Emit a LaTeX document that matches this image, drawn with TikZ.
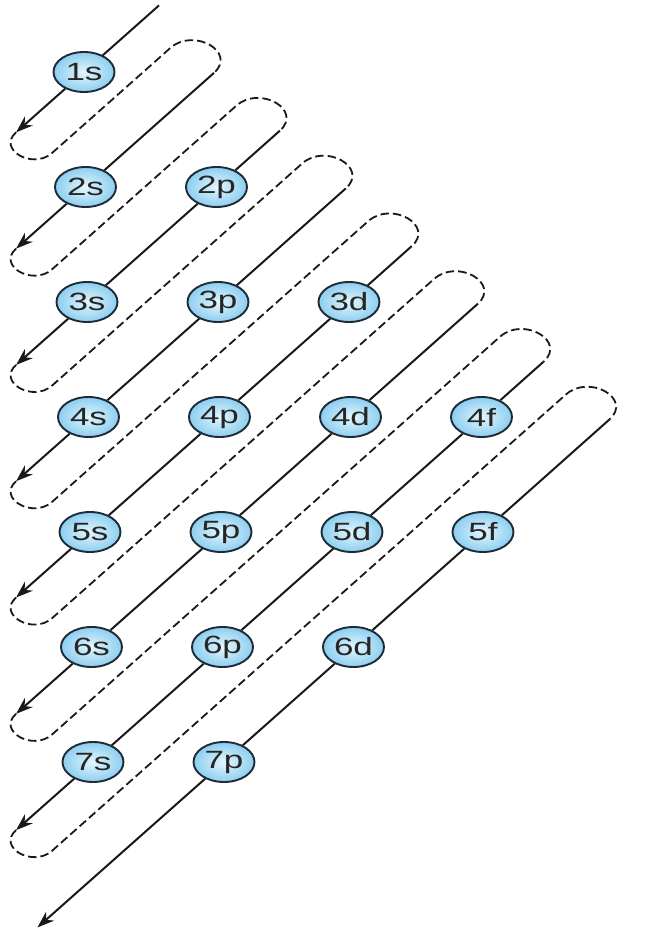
\documentclass[tikz,border=0pt]{standalone}
\usepackage{fontspec}
\setmainfont{Liberation Sans}
\usetikzlibrary{shapes.geometric,arrows.meta}
\newcommand\ntset[3]{%
  \pgfmathsetmacro\ntX{0.7791*(#2)+0.6267*(#3)}%
  \pgfmathsetmacro\ntY{0.6267*(#2)-0.7791*(#3)}%
  \coordinate (#1) at (\ntX,\ntY);}
\newcommand\sx[1]{\scalebox{1.4}[1]{#1}}
\definecolor{orbline}{HTML}{1E2A36}
\definecolor{orbin}{RGB}{228,246,253}
\definecolor{orbout}{RGB}{140,206,240}
\begin{document}
\begin{tikzpicture}[x=1.4pt,y=-1pt,
  orb/.style={ellipse, draw=orbline, line width=1.9pt, minimum width=61pt,
    minimum height=40pt, inner sep=0pt, inner color=orbin, outer color=orbout,
    font=\fontsize{25}{27}\selectfont, text=black!85},
  path line/.style={line width=2pt, draw=black!90},
  arrowline/.style={path line, -{Stealth[length=17pt,width=12pt]}},
  return line/.style={path line, line width=1.8pt, dash pattern=on 8.5pt off 4pt}]
\useasboundingbox (0,0) rectangle (463.57,933);

% orbital nodes
\foreach \n/\l/\lab in {1/0/s, 2/0/s, 2/1/p, 3/0/s, 3/1/p, 3/2/d,
  4/0/s, 4/1/p, 4/2/d, 4/3/f, 5/0/s, 5/1/p, 5/2/d, 5/3/f,
  6/0/s, 6/1/p, 6/2/d, 7/0/s, 7/1/p}
  \node[orb] (\n\lab) at ({60+93.57*\l+1.07*(\n-1)},{72+115*(\n-1)}) {\sx{\n\lab}};

% turning points
\foreach \k in {1,...,7}{
  \pgfmathsetmacro\nk{91.9+72.9*(\k-1)}
  \pgfmathsetmacro\tbot{(11.5-0.7791*\nk)/0.6267}
  \pgfmathsetmacro\ttop{39-15.5*(\k-1)}
  \pgfmathtruncatemacro\kn{\k+1}
  \ntset{tip\k}{\nk}{\tbot}
  \ntset{db\k}{\nk+33}{\tbot}
  \ntset{dt\k}{\nk+33}{\ttop}
  \ntset{top\kn}{\nk+72.9}{\ttop}
}
\ntset{top1}{91.9}{67}
\ntset{tip8}{602.2}{-706}

% dashed return paths
\foreach \k [evaluate=\k as \kn using int(\k+1)] in {1,...,7}
  \draw[return line] (tip\k) .. controls +(-13.8,17.1) and +(-13.8,17.1) .. (db\k)
    -- (dt\k) .. controls +(16.7,-20.7) and +(16.7,-20.7) .. (top\kn);

% solid filling order lines
\draw[arrowline] (top1) -- (1s) -- (tip1);
\draw[arrowline] (top2) -- (2s) -- (tip2);
\draw[arrowline] (top3) -- (2p) -- (3s) -- (tip3);
\draw[arrowline] (top4) -- (3p) -- (4s) -- (tip4);
\draw[arrowline] (top5) -- (3d) -- (4p) -- (5s) -- (tip5);
\draw[arrowline] (top6) -- (4d) -- (5p) -- (6s) -- (tip6);
\draw[arrowline] (top7) -- (4f) -- (5d) -- (6p) -- (7s) -- (tip7);
\draw[arrowline] (top8) -- (5f) -- (6d) -- (7p) -- (tip8);
\end{tikzpicture}
\end{document}
